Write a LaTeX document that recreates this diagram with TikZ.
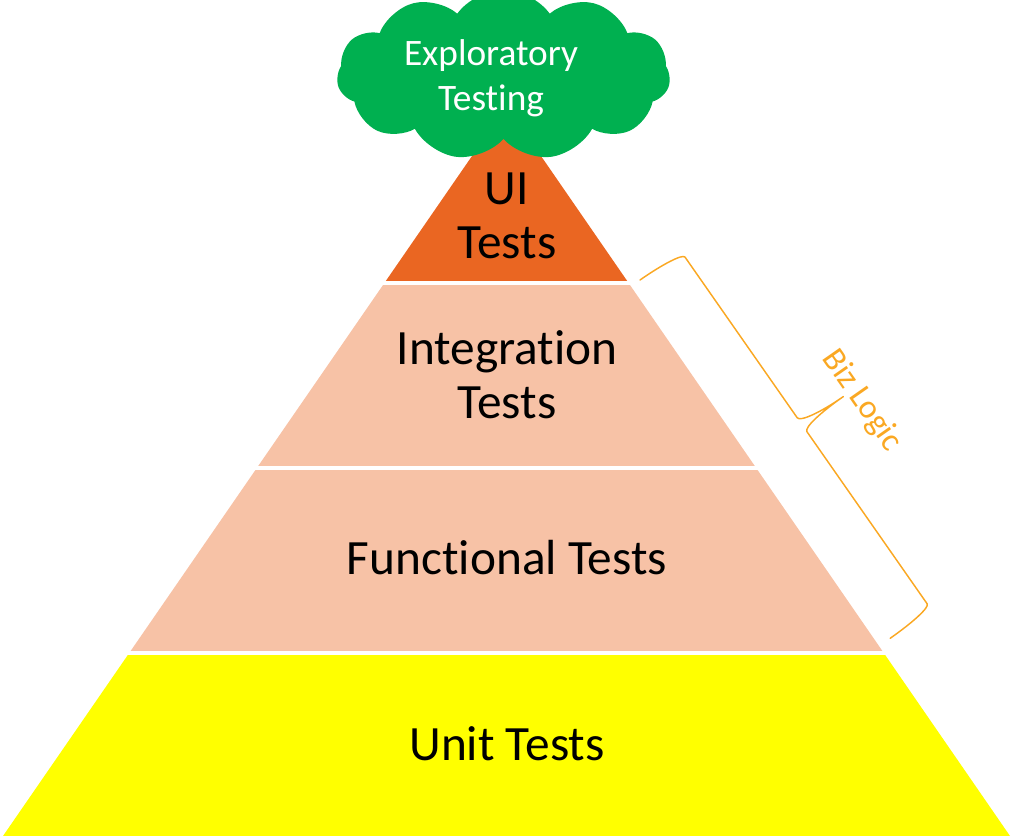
\documentclass[tikz,border=0pt]{standalone}
\usepackage{fontspec}
\setmainfont{Carlito}[Ligatures=NoCommon]
\usetikzlibrary{shapes.symbols}

\definecolor{cloudgreen}{RGB}{0,176,80}
\definecolor{uiorange}{RGB}{234,102,34}
\definecolor{midsalmon}{RGB}{247,194,166}
\definecolor{unityellow}{RGB}{255,255,0}
\definecolor{bizorange}{RGB}{250,168,35}

\begin{document}
\begin{tikzpicture}[
  x=0.75pt, y=0.75pt,
  line cap=round, line join=round,
  tiertext/.style={inner sep=0pt, align=center, font=\fontsize{37pt}{40.5pt}\selectfont},
  cloudtext/.style={inner sep=0pt, align=center, text=white, font=\fontsize{28pt}{33.75pt}\selectfont},
  biztext/.style={inner sep=0pt, text=bizorange, font=\fontsize{25pt}{25pt}\selectfont},
  bizbrace/.style={draw=bizorange, line width=1.1pt}
]
  \useasboundingbox (0,0) rectangle (1012,839);
  % ---- 金字塔顶点 ----
  \coordinate (L) at (3,3);
  \coordinate (R) at (1010,3);
  \coordinate (A) at (506.5,733);
  % ---- 四层色带（三角形裁剪，层间留白缝） ----
  \begin{scope}
    \clip (L) -- (A) -- (R) -- cycle;
    \fill[unityellow] (0,3)   rectangle (1012,184);
    \fill[midsalmon]  (0,188) rectangle (1012,369);
    \fill[midsalmon]  (0,373) rectangle (1012,554);
    \fill[uiorange]   (0,558) rectangle (1012,740);
  \end{scope}
  % ---- 顶部云 ----
  \node[cloud, cloud puffs=11, cloud puff arc=110, aspect=2.2, fill=cloudgreen,
        inner sep=0pt, minimum width=250pt, minimum height=128pt] (cloud) at (503.5,764) {};
  \node[cloudtext] (explore) at (491,761) {Exploratory\\Testing};
  % ---- 各层标签 ----
  \node[tiertext] (ui)    at (507,623)   {UI\\Tests};
  \node[tiertext] (integ) at (507,464)   {Integration\\Tests};
  \node[tiertext] (func)  at (507,281.5) {Functional Tests};
  \node[tiertext] (unit)  at (507,95)    {Unit Tests};
  % ---- 右侧花括号（沿斜边旋转的局部坐标：x 沿边，y 朝外） ----
  \begin{scope}[shift={(640,559)}, rotate=-55.07]
    \draw[bizbrace] (0,0) .. controls (0,28) and (3,50) .. (7,50) -- (203,50)
      .. controls (208,50) and (212,72) .. (212,100)
      .. controls (212,72) and (215,50) .. (220,50) -- (430,50)
      .. controls (434,50) and (437,28) .. (437,0);
    \node[biztext, transform shape] (biz) at (226,113) {Biz Logic};
  \end{scope}
\end{tikzpicture}
\end{document}
